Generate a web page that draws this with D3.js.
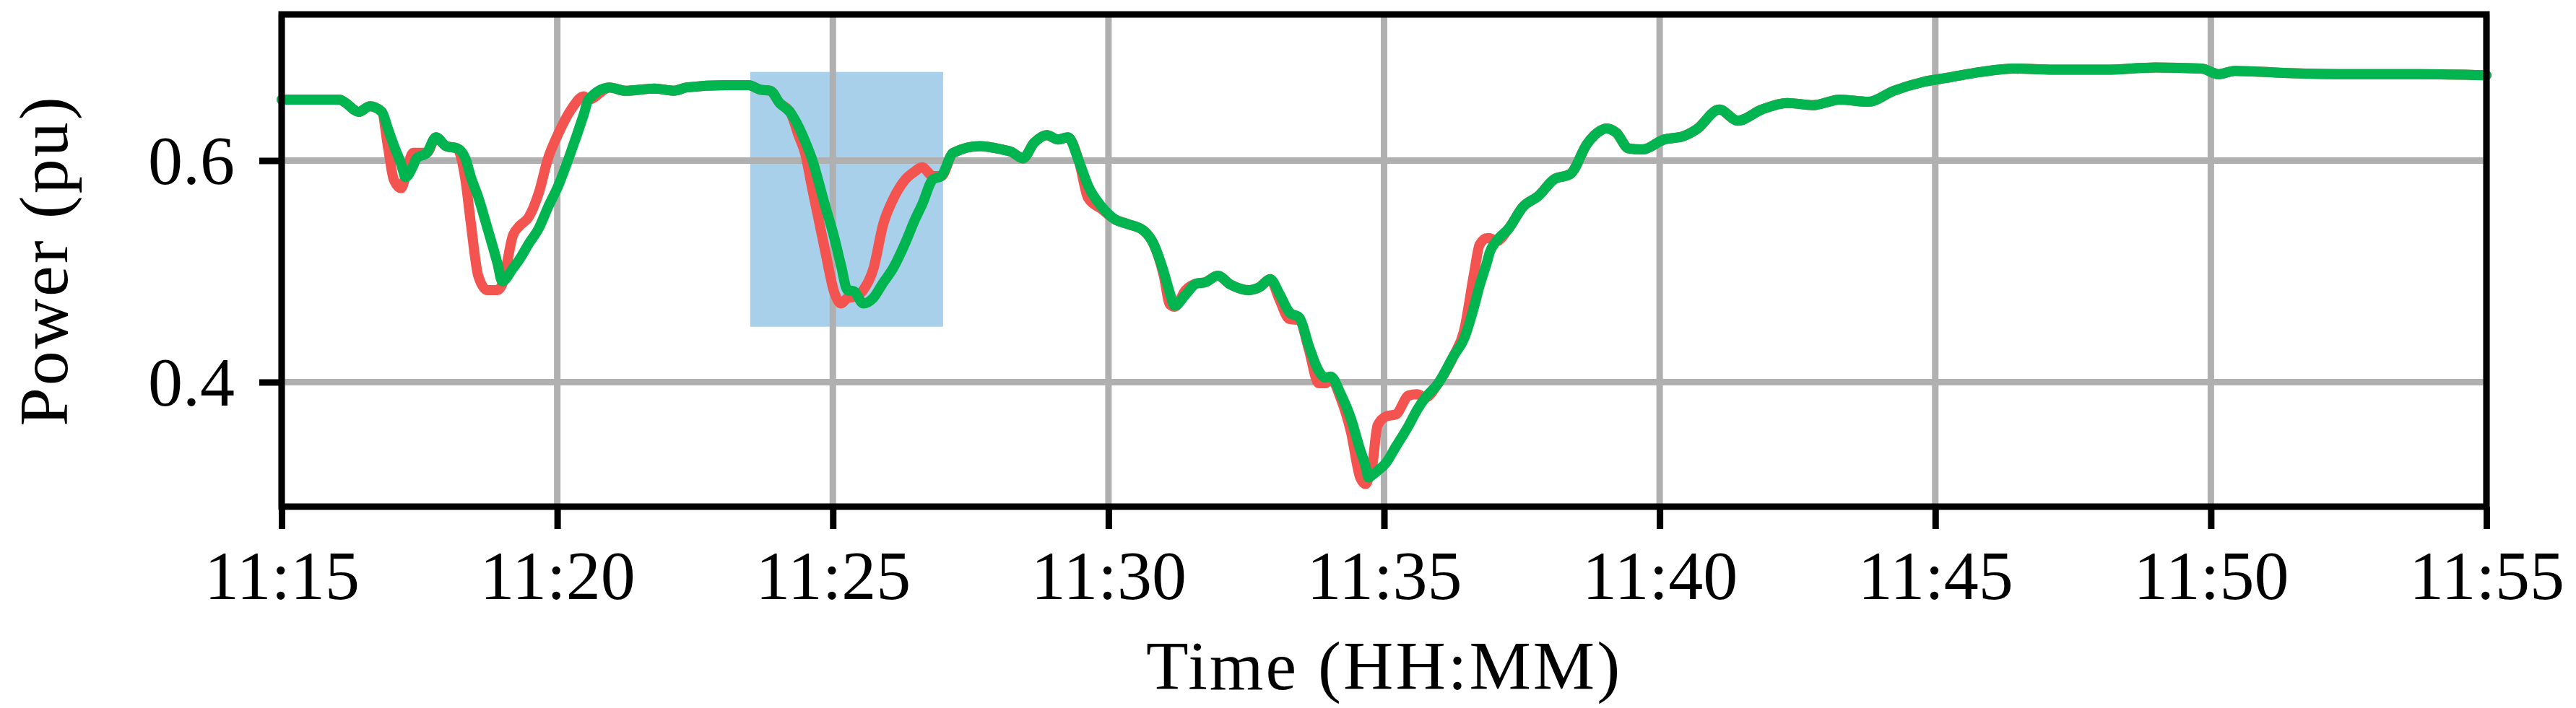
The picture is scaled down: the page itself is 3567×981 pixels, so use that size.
<!doctype html>
<html>
<head>
<meta charset="utf-8">
<title>Power (pu) vs Time</title>
<script src="https://d3js.org/d3.v7.min.js"></script>
<style type="text/css">
	body {
		margin: 0;
		background: #fff;
	}
	.tickText text {
		font-family: "Liberation Serif", serif;
		font-size: 96px;
		fill: #000;
	}
	.axisTitle {
		font-family: "Liberation Serif", serif;
		font-size: 96px;
		letter-spacing: 3px;
		fill: #000;
	}
	.grid line {
		stroke: #b0b0b0;
		stroke-width: 9;
	}
	.trace {
		fill: none;
		stroke-width: 14;
		stroke-linejoin: round;
		stroke-linecap: round;
	}
</style>
</head>
<body>
<script>
	// sample times (HH:MM:SS)
	var times = [
		"11:15:00","11:15:30","11:16:03","11:16:08","11:16:24","11:16:36","11:16:49","11:16:56","11:17:02","11:17:10",
		"11:17:15","11:17:23","11:17:27","11:17:38","11:17:48","11:17:59","11:18:11","11:18:20","11:18:26","11:18:34",
		"11:18:44","11:18:55","11:19:00","11:19:12","11:19:19","11:19:29","11:19:40","11:19:50","11:20:01","11:20:15",
		"11:20:29","11:20:34","11:20:57","11:21:14","11:21:46","11:22:07","11:22:21","11:23:03","11:23:28","11:23:41",
		"11:23:52","11:24:02","11:24:14","11:24:23","11:24:30","11:24:37","11:24:51","11:25:02","11:25:09","11:25:16",
		"11:25:23","11:25:33","11:25:44","11:25:55","11:26:05","11:26:19","11:26:29","11:26:37","11:26:49","11:26:58",
		"11:27:11","11:27:40","11:28:04","11:28:14","11:28:27","11:28:39","11:28:53","11:29:05","11:29:16","11:29:28",
		"11:29:38","11:29:53","11:30:07","11:30:20","11:30:38","11:30:49","11:31:00","11:31:07","11:31:12","11:31:24",
		"11:31:36","11:31:45","11:31:59","11:32:13","11:32:33","11:32:45","11:32:56","11:33:06","11:33:17","11:33:28",
		"11:33:38","11:33:49","11:33:56","11:34:02","11:34:13","11:34:24","11:34:34","11:34:40","11:34:43","11:34:47",
		"11:34:53","11:35:02","11:35:13","11:35:27","11:35:36","11:35:45","11:35:59","11:36:16","11:36:27","11:36:38",
		"11:36:44","11:36:52","11:36:55","11:37:02","11:37:16","11:37:31","11:37:48","11:38:05","11:38:23","11:38:41",
		"11:38:52","11:39:02","11:39:13","11:39:26","11:39:41","11:40:05","11:40:26","11:40:40","11:41:05","11:41:25",
		"11:41:51","11:42:19","11:42:47","11:43:16","11:43:47","11:44:15","11:44:47","11:45:15","11:45:50","11:46:26",
		"11:47:08","11:48:06","11:49:00","11:49:50","11:50:08","11:50:26","11:51:24","11:52:36","11:53:48","11:55:00"
	];

	// green trace (pu)
	var greenPower = [
		0.655,0.655,0.655,0.653,0.644,0.649,0.644,0.628,0.614,0.597,
		0.585,0.595,0.602,0.607,0.621,0.613,0.611,0.602,0.585,0.567,
		0.539,0.507,0.491,0.503,0.511,0.525,0.539,0.558,0.577,0.608,
		0.642,0.655,0.666,0.663,0.665,0.663,0.666,0.668,0.668,0.664,
		0.663,0.652,0.643,0.630,0.617,0.602,0.561,0.529,0.505,0.483,
		0.482,0.471,0.476,0.490,0.502,0.526,0.546,0.560,0.583,0.586,
		0.607,0.613,0.610,0.608,0.602,0.616,0.623,0.619,0.621,0.599,
		0.577,0.558,0.547,0.543,0.537,0.525,0.500,0.480,0.469,0.479,
		0.489,0.490,0.496,0.488,0.483,0.486,0.493,0.480,0.463,0.458,
		0.433,0.410,0.404,0.405,0.389,0.367,0.339,0.324,0.314,0.316,
		0.320,0.327,0.342,0.361,0.375,0.386,0.399,0.424,0.439,0.468,
		0.487,0.508,0.517,0.527,0.539,0.558,0.568,0.583,0.588,0.615,
		0.625,0.629,0.625,0.611,0.610,0.619,0.622,0.628,0.646,0.636,
		0.646,0.652,0.650,0.655,0.653,0.663,0.671,0.675,0.680,0.683,
		0.682,0.682,0.684,0.683,0.678,0.681,0.679,0.678,0.678,0.677
	];

	// red trace (pu)
	var redPower = [
		0.655,0.655,0.655,0.653,0.644,0.649,0.644,0.611,0.583,0.575,
		0.586,0.607,0.607,0.607,0.621,0.613,0.611,0.583,0.543,0.496,
		0.483,0.483,0.488,0.533,0.541,0.549,0.571,0.602,0.624,0.646,
		0.658,0.655,0.666,0.663,0.665,0.663,0.666,0.668,0.668,0.664,
		0.663,0.652,0.643,0.622,0.606,0.577,0.521,0.480,0.471,0.476,
		0.477,0.483,0.502,0.543,0.564,0.583,0.590,0.594,0.586,0.586,
		0.607,0.613,0.610,0.608,0.602,0.616,0.623,0.619,0.621,0.599,
		0.566,0.556,0.547,0.543,0.537,0.525,0.497,0.470,0.468,0.483,
		0.489,0.490,0.496,0.488,0.483,0.486,0.493,0.475,0.457,0.456,
		0.430,0.399,0.399,0.403,0.385,0.355,0.314,0.308,0.313,0.324,
		0.361,0.369,0.371,0.388,0.389,0.386,0.399,0.424,0.446,0.498,
		0.524,0.530,0.530,0.527,0.539,0.558,0.568,0.583,0.588,0.615,
		0.625,0.629,0.625,0.611,0.610,0.619,0.622,0.628,0.646,0.636,
		0.646,0.652,0.650,0.655,0.653,0.663,0.671,0.675,0.680,0.683,
		0.682,0.682,0.684,0.683,0.678,0.681,0.679,0.678,0.678,0.677
	];

	var xTicks = ["11:15","11:20","11:25","11:30","11:35","11:40","11:45","11:50","11:55"];
	var yTicks = [0.4, 0.6];
	var timeRange = ["11:15:00", "11:55:00"];
	var powerRange = [0.2876, 0.7319];

	// shaded window
	var spanTimes = ["11:23:30", "11:27:00"];
	var spanPower = [0.45, 0.68];

	var w = 3567;
	var h = 981;
	var margin = {left: 390, right: 124, top: 20, bottom: 279};
	var pw = w - margin.left - margin.right;
	var ph = h - margin.top - margin.bottom;

	var parseTime = d3.timeParse("%H:%M:%S");
	var parseTick = d3.timeParse("%H:%M");
	var formatTick = d3.timeFormat("%H:%M");

	var svg = d3.select("body")
				.append("svg")
				.attr("width", w)
				.attr("height", h);

	var g = svg.append("g")
				.attr("transform", "translate(" + margin.left + "," + margin.top + ")");

	var xScale = d3.scaleTime()
				.domain(timeRange.map(parseTime))
				.range([0, pw]);
	var yScale = d3.scaleLinear()
				.domain(powerRange)
				.range([ph, 0]);

	// shaded box
	g.append("rect")
		.attr("x", xScale(parseTime(spanTimes[0])))
		.attr("y", yScale(spanPower[1]))
		.attr("width", xScale(parseTime(spanTimes[1])) - xScale(parseTime(spanTimes[0])))
		.attr("height", yScale(spanPower[0]) - yScale(spanPower[1]))
		.attr("fill", "#a9d0ea");

	// grid
	var grid = g.append("g").attr("class", "grid");
	grid.selectAll(".vg")
		.data(xTicks)
		.enter()
		.append("line")
		.attr("x1", function(d) { return xScale(parseTick(d)); })
		.attr("x2", function(d) { return xScale(parseTick(d)); })
		.attr("y1", 0)
		.attr("y2", ph);
	grid.selectAll(".hg")
		.data(yTicks)
		.enter()
		.append("line")
		.attr("x1", 0)
		.attr("x2", pw)
		.attr("y1", function(d) { return yScale(d); })
		.attr("y2", function(d) { return yScale(d); });

	var redData = times.map(function(t, i) { return {t: parseTime(t), v: redPower[i]}; });
	var greenData = times.map(function(t, i) { return {t: parseTime(t), v: greenPower[i]}; });

	var line = d3.line()
				.x(function(d) { return xScale(d.t); })
				.y(function(d) { return yScale(d.v); })
				.curve(d3.curveMonotoneX);

	g.append("path")
		.datum(redData)
		.attr("class", "trace")
		.attr("stroke", "#f35450")
		.attr("d", line);

	g.append("path")
		.datum(greenData)
		.attr("class", "trace")
		.attr("stroke", "#00b450")
		.attr("d", line);

	// axes
	var xAxis = d3.axisBottom(xScale)
				.tickValues(xTicks.map(parseTick))
				.tickFormat(formatTick)
				.tickSize(31)
				.tickPadding(29);
	var yAxis = d3.axisLeft(yScale)
				.tickValues(yTicks)
				.tickFormat(d3.format(".1f"))
				.tickSize(31)
				.tickPadding(34);

	var xg = g.append("g")
		.attr("class", "tickText")
		.attr("transform", "translate(0," + ph + ")")
		.call(xAxis);
	var yg = g.append("g")
		.attr("class", "tickText")
		.call(yAxis);

	xg.select(".domain").remove();
	yg.select(".domain").remove();
	xg.selectAll(".tick line").attr("stroke", "#000").attr("stroke-width", 9);
	yg.selectAll(".tick line").attr("stroke", "#000").attr("stroke-width", 9);
	yg.selectAll(".tick text").attr("dy", "0.33em");

	// frame
	g.append("rect")
		.attr("x", 0)
		.attr("y", 0)
		.attr("width", pw)
		.attr("height", ph)
		.attr("fill", "none")
		.attr("stroke", "#000")
		.attr("stroke-width", 9);

	// titles
	g.append("text")
		.attr("class", "axisTitle")
		.attr("x", pw / 2)
		.attr("y", 935)
		.style("text-anchor", "middle")
		.text("Time (HH:MM)");

	g.append("text")
		.attr("class", "axisTitle")
		.attr("transform", "translate(" + (93 - margin.left) + "," + (ph / 2) + ") rotate(-90)")
		.style("text-anchor", "middle")
		.text("Power (pu)");
</script>
</body>
</html>
